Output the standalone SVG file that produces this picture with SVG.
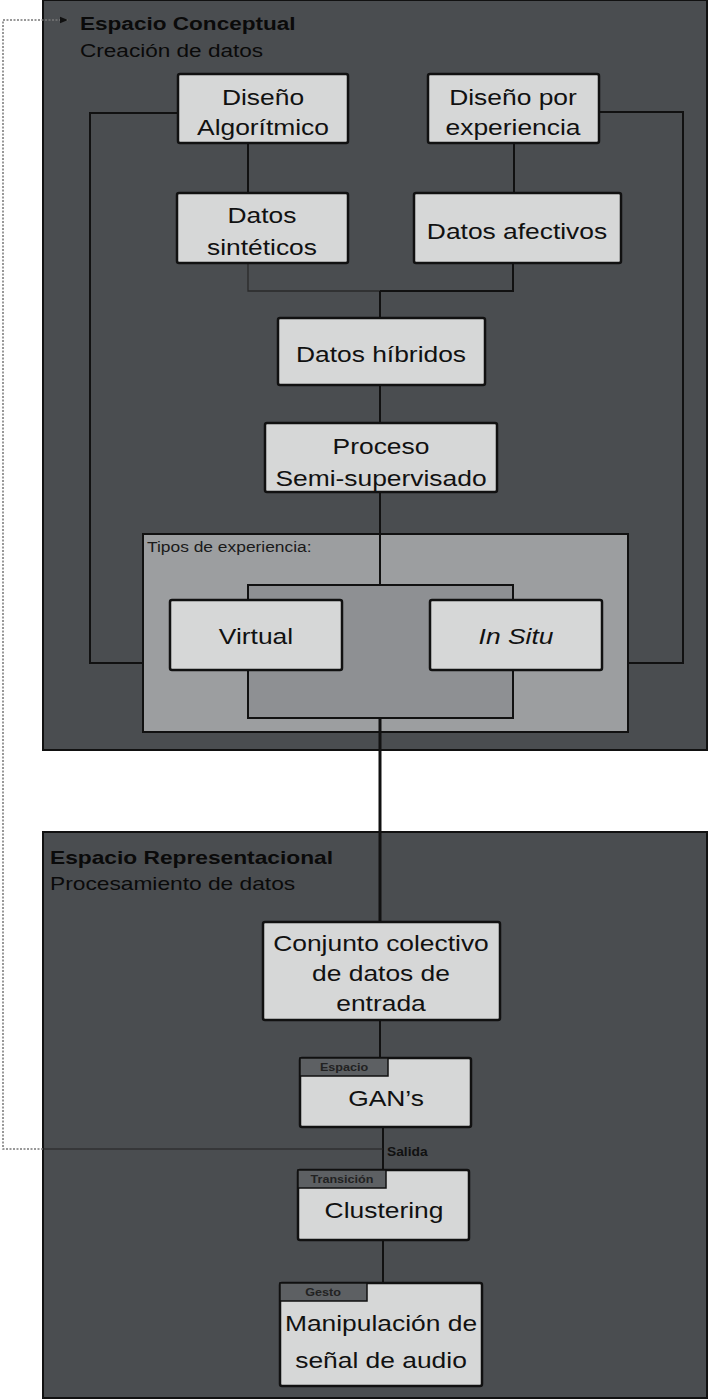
<svg xmlns="http://www.w3.org/2000/svg" width="709" height="1400" viewBox="0 0 709 1400">
<defs>
<style>
.panel{fill:#4a4d50;stroke:#111;stroke-width:2}
.tipos{fill:#9c9ea0;stroke:#111;stroke-width:2}
.inner{fill:#8e9093;stroke:#111;stroke-width:2}
.node{fill:#d6d7d7;stroke:#111;stroke-width:2.5}
.tab{fill:#5d6063;stroke:#111;stroke-width:1.5}
.t{font-family:"Liberation Sans",Arial,sans-serif;font-size:22px;fill:#111;text-anchor:middle}
.hb{font-family:"Liberation Sans",Arial,sans-serif;font-size:18.5px;font-weight:bold;fill:#0a0a0a}
.hr{font-family:"Liberation Sans",Arial,sans-serif;font-size:18.5px;fill:#0a0a0a}
.small{font-family:"Liberation Sans",Arial,sans-serif;font-size:14.5px;fill:#1a1a1a}
.tabt{font-family:"Liberation Sans",Arial,sans-serif;font-size:10.5px;font-weight:bold;fill:#222;text-anchor:middle}
.c{fill:none;stroke:#111;stroke-width:2}
.thick{fill:none;stroke:#111;stroke-width:3}
.dot{fill:none;stroke:#777;stroke-width:1.5;stroke-dasharray:2 1.5}
</style>
<marker id="arr" viewBox="0 0 10 10" refX="10" refY="5" markerWidth="8" markerHeight="8" orient="auto" markerUnits="userSpaceOnUse">
<path d="M0,1 L10,5 L0,9 z" fill="#111"/>
</marker>
</defs>
<rect width="709" height="1400" fill="#fff"/>

<g id="panel-conceptual">
<rect class="panel" x="43" y="0" width="664" height="750"/>
<text class="hb" transform="translate(80,30) scale(1.22,1)">Espacio Conceptual</text>
<text class="hr" transform="translate(80,57) scale(1.22,1)">Creación de datos</text>
</g>

<g id="panel-representacional">
<rect class="panel" x="43" y="832" width="664" height="566"/>
<text class="hb" transform="translate(50,864) scale(1.23,1)">Espacio Representacional</text>
<text class="hr" transform="translate(50,890) scale(1.23,1)">Procesamiento de datos</text>
</g>

<g id="tipos-panel">
<rect class="tipos" x="143" y="534" width="485" height="198"/>
<text class="small" transform="translate(147,552) scale(1.2,1)">Tipos de experiencia:</text>
<rect class="inner" x="248" y="585" width="265" height="133"/>
</g>

<g id="connectors">
<path class="c" d="M178,113 H90 V663 H143"/>
<path class="c" d="M599,112 H683 V663 H628"/>
<path class="c" d="M248,143 V193"/>
<path class="c" d="M514,143 V193"/>
<path fill="none" stroke="#2a2a2a" stroke-width="1.3" d="M248,263 V291 H380"/>
<path class="c" d="M380,291 H513 V263"/>
<path class="c" d="M380,291 V318"/>
<path class="c" d="M380,385 V423"/>
<path class="c" d="M380,492 V585"/>
<path class="thick" d="M380,718 V922"/>
<path class="c" d="M380,1020 V1058"/>
<path class="c" d="M383,1127 V1170"/>
<path class="c" d="M383,1240 V1283"/>
<path fill="none" stroke="#222" stroke-width="1.2" d="M43,1149 H383"/>
<path class="dot" d="M43,1149 H3 V20 H68" marker-end="url(#arr)"/>
<text transform="translate(387,1156) scale(1.15,1)" style="font-family:'Liberation Sans',Arial,sans-serif;font-size:12px;font-weight:bold;fill:#111">Salida</text>
</g>

<g id="n-diseno-algoritmico">
<rect class="node" x="178" y="74" width="170" height="69" rx="2"/>
<text class="t" transform="translate(263,105) scale(1.2,1)">Diseño</text>
<text class="t" transform="translate(263,135) scale(1.2,1)">Algorítmico</text>
</g>
<g id="n-diseno-experiencia">
<rect class="node" x="428" y="74" width="171" height="69" rx="2"/>
<text class="t" transform="translate(513,105) scale(1.2,1)">Diseño por</text>
<text class="t" transform="translate(513,135) scale(1.2,1)">experiencia</text>
</g>
<g id="n-datos-sinteticos">
<rect class="node" x="177" y="193" width="171" height="70" rx="2"/>
<text class="t" transform="translate(262,223) scale(1.2,1)">Datos</text>
<text class="t" transform="translate(262,255) scale(1.2,1)">sintéticos</text>
</g>
<g id="n-datos-afectivos">
<rect class="node" x="414" y="193" width="207" height="70" rx="2"/>
<text class="t" transform="translate(517,239) scale(1.2,1)">Datos afectivos</text>
</g>
<g id="n-datos-hibridos">
<rect class="node" x="278" y="318" width="207" height="67" rx="2"/>
<text class="t" transform="translate(381,362) scale(1.2,1)">Datos híbridos</text>
</g>
<g id="n-proceso">
<rect class="node" x="265" y="423" width="232" height="69" rx="2"/>
<text class="t" transform="translate(381,454) scale(1.2,1)">Proceso</text>
<text class="t" transform="translate(381,486) scale(1.2,1)">Semi-supervisado</text>
</g>
<g id="n-virtual">
<rect class="node" x="170" y="600" width="172" height="70" rx="2"/>
<text class="t" transform="translate(256,644) scale(1.2,1)">Virtual</text>
</g>
<g id="n-insitu">
<rect class="node" x="430" y="600" width="172" height="70" rx="2"/>
<text class="t" transform="translate(516,644) scale(1.2,1)" font-style="italic">In Situ</text>
</g>
<g id="n-conjunto">
<rect class="node" x="263" y="922" width="237" height="98" rx="2"/>
<text class="t" transform="translate(381,951) scale(1.2,1)">Conjunto colectivo</text>
<text class="t" transform="translate(381,981) scale(1.2,1)">de datos de</text>
<text class="t" transform="translate(381,1011) scale(1.2,1)">entrada</text>
</g>
<g id="n-gans">
<rect class="node" x="300" y="1058" width="171" height="69" rx="2"/>
<rect class="tab" x="300" y="1058" width="88" height="18"/>
<text class="tabt" transform="translate(344,1071) scale(1.2,1)">Espacio</text>
<text class="t" transform="translate(386,1106) scale(1.2,1)">GAN’s</text>
</g>
<g id="n-clustering">
<rect class="node" x="298" y="1170" width="171" height="70" rx="2"/>
<rect class="tab" x="298" y="1170" width="88" height="18"/>
<text class="tabt" transform="translate(342,1183) scale(1.2,1)">Transición</text>
<text class="t" transform="translate(384,1218) scale(1.2,1)">Clustering</text>
</g>
<g id="n-manipulacion">
<rect class="node" x="280" y="1283" width="202" height="103" rx="2"/>
<rect class="tab" x="280" y="1283" width="87" height="18"/>
<text class="tabt" transform="translate(323,1296) scale(1.2,1)">Gesto</text>
<text class="t" transform="translate(381,1331) scale(1.2,1)">Manipulación de</text>
<text class="t" transform="translate(381,1368) scale(1.2,1)">señal de audio</text>
</g>
</svg>
